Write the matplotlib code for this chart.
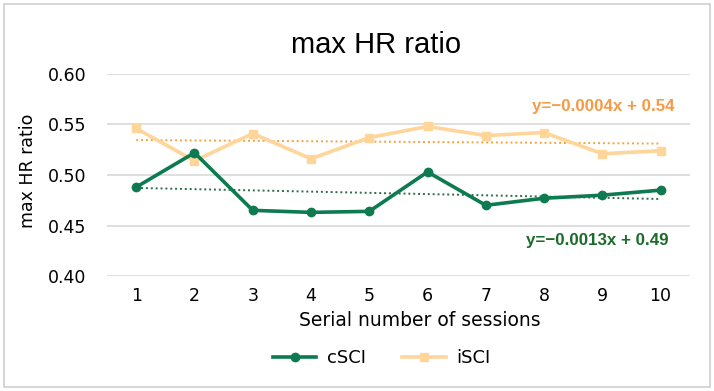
import numpy as np
import matplotlib
matplotlib.use('Agg')
from matplotlib import pyplot as plt
from matplotlib.patches import Rectangle

sessions = [1, 2, 3, 4, 5, 6, 7, 8, 9, 10]
cSCI = [0.488, 0.522, 0.465, 0.463, 0.464, 0.503, 0.470, 0.477, 0.480, 0.485]
iSCI = [0.546, 0.514, 0.541, 0.516, 0.537, 0.548, 0.539, 0.542, 0.521, 0.524]
y_ticks = [0.40, 0.45, 0.50, 0.55, 0.60]

GREEN = '#0E7A4F'
PEACH = '#FFD59A'
ORANGE = '#F7A23B'
GREEN_TXT = '#1B6B2A'
ORANGE_TXT = '#F79A46'

W, H = 714, 391
fig = plt.figure(figsize=(W / 100, H / 100), dpi=100)
ax = fig.add_axes([0.150, 0.294, 0.816, 0.517])

x = np.array(sessions)
ax.plot(x, cSCI, color=GREEN, lw=2.6, marker='o', ms=6, label='cSCI', zorder=4)
ax.plot(x, iSCI, color=PEACH, lw=2.6, marker='s', ms=6, label='iSCI', zorder=3)

# linear trendlines
for vals, col in [(cSCI, '#2E6B4A'), (iSCI, ORANGE)]:
    k, b = np.polyfit(x, vals, 1)
    ax.plot(x, k * x + b, color=col, lw=1.4, ls=(0, (1, 1.5)), zorder=2)

fig.text(675 / W, 1 - 107 / H, 'y=\u22120.0004x + 0.54', ha='right', va='center',
         color=ORANGE_TXT, fontsize=12.2, fontweight='bold', family='Liberation Sans')
fig.text(668 / W, 1 - 240 / H, 'y=\u22120.0013x + 0.49', ha='right', va='center',
         color=GREEN_TXT, fontsize=12.2, fontweight='bold', family='Liberation Sans')

ax.set_xlim(0.5, 10.5)
ax.set_ylim(0.40, 0.60)
ax.set_xticks(sessions)
ax.set_yticks(y_ticks)
ax.set_yticklabels(['%.2f' % v for v in y_ticks])
ax.tick_params(length=0, labelsize=12.5)
ax.tick_params(axis='y', pad=15)
ax.tick_params(axis='x', pad=8)
ax.grid(axis='y', color='#D9D9D9', lw=1.2)
ax.set_axisbelow(True)
for s in ax.spines.values():
    s.set_visible(False)

fig.text(28 / W, 1 - 171 / H, 'max HR ratio', rotation=90, ha='center', va='center', fontsize=12.5)
fig.text(420 / W, 1 - 320 / H, 'Serial number of sessions', ha='center', va='center', fontsize=13.5)
fig.text(376 / W, 1 - 45 / H, 'max HR ratio', ha='center', va='center', fontsize=21,
         family='Liberation Sans')

ax.legend(loc='center', bbox_to_anchor=(382 / W, 1 - 358 / H), bbox_transform=fig.transFigure,
          ncol=2, frameon=False, fontsize=13, handlelength=2.4, columnspacing=2.0,
          handletextpad=0.6)

fig.add_artist(Rectangle((0.005, 0.01), 0.99, 0.98, transform=fig.transFigure,
                         fill=False, edgecolor='#D0D0D0', lw=1.2))

fig.savefig('out.png', dpi=100)
